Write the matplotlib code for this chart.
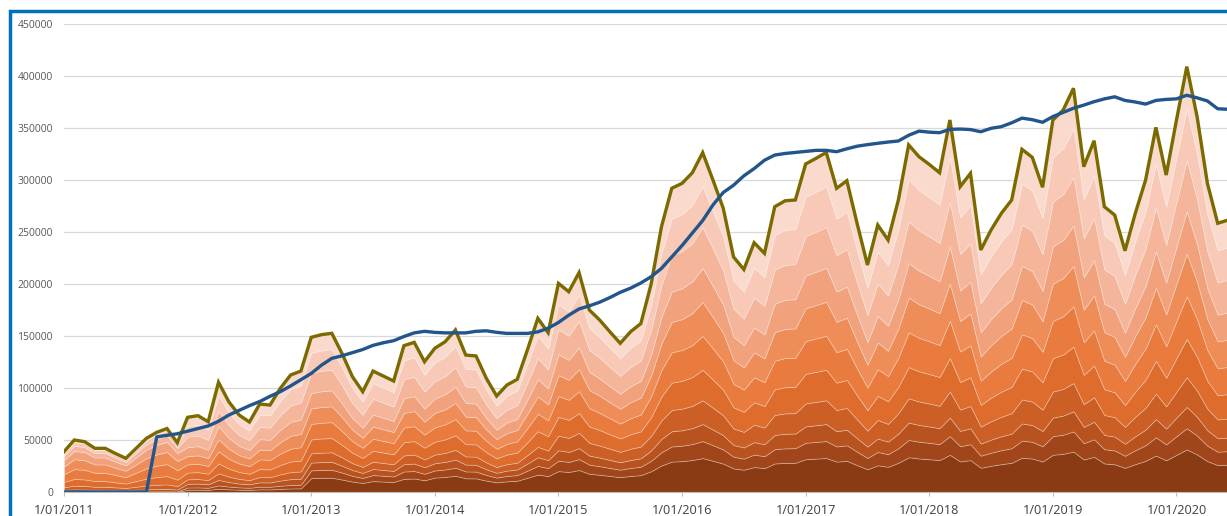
import numpy as np
import matplotlib.pyplot as plt
from matplotlib.patches import Rectangle

# monthly totals (thousands), Jan 2011 .. Jun 2020
total = [38.8, 50, 48.4, 42, 42, 37, 32.4, 42, 51.6, 57.4, 61, 47.4,
         71.8, 73.4, 67.6, 105.5, 86.8, 74, 67.3, 84.6, 83.6, 99.7, 112.5, 116.3,
         148.7, 151.3, 152.6, 133, 110.9, 96.5, 116.3, 111.5, 106.7, 140.7, 143.9, 125.3,
         138.2, 144.5, 155.8, 131.7, 130.8, 109.3, 92.3, 102.9, 108.3, 137, 167, 153.2,
         200.6, 192.6, 210.9, 175, 165.4, 154, 143, 154.1, 162, 200, 255, 292,
         296.8, 307, 326.3, 300, 272.8, 226, 214, 239.7, 229.5, 274.3, 280, 280.8,
         315.4, 320.8, 326.5, 292, 299.3, 258, 218.3, 256.7, 242.3, 280.8, 333.7, 322.4,
         315, 307, 357.7, 293.6, 306.4, 232.7, 252, 268, 280.8, 329.5, 321.8, 293,
         357.7, 367.3, 388.2, 312.8, 337.8, 274.3, 266.3, 232, 268, 300, 350.6, 304.8,
         357.7, 409, 360.9, 296.8, 258.4, 261.5]

# rolling average (thousands)
rolling = [0, 0, 0, 0, 0, 0, 0, 0, 0, 53, 54.5, 56,
           58.5, 61, 63.5, 68, 74, 78.5, 83, 87, 92, 96.5, 102, 108,
           114, 122, 128.5, 131, 134, 137, 141, 143.5, 145.5, 149.5, 153, 154.5,
           153.5, 153, 153, 153, 154.5, 155, 153.5, 152.5, 152.5, 152.5, 154, 157.5,
           163, 170, 176, 179, 182.5, 187, 192, 196, 201, 207, 215, 226,
           237, 249, 261, 276, 288, 295, 304, 311, 319, 324, 325.5, 326.5,
           327.5, 328.5, 328.5, 327.2, 330, 332.5, 334, 335.3, 336.5, 337.5, 343, 347,
           346, 345.5, 348.7, 349, 348.5, 346.4, 349.7, 351.3, 355, 359.5, 358, 355.5,
           361, 365, 369, 372, 375.3, 378, 380, 376.5, 375, 373, 376.5, 377.5,
           378, 381.5, 379, 376, 368.5, 368]

# share of the total per band (bottom -> top), one row per year 2011..2020
share_2011 = [0.00, 0.01, 0.04, 0.07, 0.13, 0.19, 0.19, 0.16, 0.10, 0.07, 0.04]
share_2012 = [0.03, 0.03, 0.05, 0.06, 0.09, 0.11, 0.11, 0.12, 0.14, 0.14, 0.12]
share_2013 = [0.09, 0.05, 0.05, 0.06, 0.09, 0.10, 0.10, 0.10, 0.13, 0.13, 0.10]
share_2014 = [0.10, 0.05, 0.05, 0.06, 0.09, 0.10, 0.10, 0.10, 0.12, 0.13, 0.10]
share_2015 = [0.10, 0.05, 0.05, 0.07, 0.09, 0.10, 0.10, 0.10, 0.12, 0.12, 0.10]
share_2016 = [0.10, 0.05, 0.05, 0.07, 0.09, 0.10, 0.10, 0.10, 0.12, 0.12, 0.10]
share_2017 = [0.10, 0.05, 0.05, 0.07, 0.09, 0.10, 0.10, 0.10, 0.12, 0.12, 0.10]
share_2018 = [0.10, 0.05, 0.05, 0.07, 0.09, 0.10, 0.10, 0.10, 0.12, 0.12, 0.10]
share_2019 = [0.10, 0.05, 0.05, 0.07, 0.09, 0.10, 0.10, 0.10, 0.12, 0.12, 0.10]
share_2020 = [0.10, 0.05, 0.05, 0.07, 0.09, 0.10, 0.10, 0.10, 0.12, 0.12, 0.10]

band_colors = ['#8A3B14', '#A1461B', '#B8531F', '#CC5F25', '#DD6C2D', '#E87B3D',
               '#EE8D57', '#F1A27C', '#F4B59B', '#F7C9B6', '#F9DACD']

tick_labels = ['1/01/2011', '1/01/2012', '1/01/2013', '1/01/2014', '1/01/2015',
               '1/01/2016', '1/01/2017', '1/01/2018', '1/01/2019', '1/01/2020']

plt.rcParams['font.family'] = ['Open Sans', 'DejaVu Sans']

shares = np.array([share_2011, share_2012, share_2013, share_2014, share_2015,
                   share_2016, share_2017, share_2018, share_2019, share_2020])
shares = shares / shares.sum(axis=1, keepdims=True)

x = np.arange(len(total))
tot = np.array(total) * 1000
roll = np.array(rolling) * 1000
yr = x // 12
bands = [tot * shares[yr, k] for k in range(shares.shape[1])]

fig = plt.figure(figsize=(12.27, 5.16), dpi=100)
ax = fig.add_axes([64 / 1227, 24 / 516, 1164 / 1227, 468 / 516])

ax.stackplot(x, bands, colors=band_colors, edgecolor=(1, 1, 1, 0.3), linewidth=0.6)
ax.plot(x, tot, color='#7A6A00', lw=2.4, solid_joinstyle='miter')
ax.plot(x, roll, color='#22558C', lw=2.4)

ax.set_xlim(0, len(total) - 1)
ax.set_ylim(0, 450000)
ax.set_yticks(np.arange(0, 450001, 50000))
ax.set_yticklabels([str(v) for v in range(0, 450001, 50000)])
ax.set_xticks(np.arange(0, 109, 12))
ax.set_xticklabels(tick_labels)

ax.yaxis.grid(True, color='#D9D9D9', lw=0.9)
ax.set_axisbelow(True)
for s in ['top', 'right', 'left']:
    ax.spines[s].set_visible(False)
ax.spines['bottom'].set_color('#BFBFBF')
ax.tick_params(axis='y', length=0, pad=8, labelsize=7.5, labelcolor='#595959')
ax.tick_params(axis='x', length=3, color='#BFBFBF', pad=6, labelsize=9.2, labelcolor='#404040')

fig.patches.append(Rectangle((10 / 1227, -0.1), 1.2, 1.1 - 10.5 / 516, transform=fig.transFigure,
                             fill=False, edgecolor='#0070C0', lw=2.5))

fig.savefig('out.png', dpi=100)
